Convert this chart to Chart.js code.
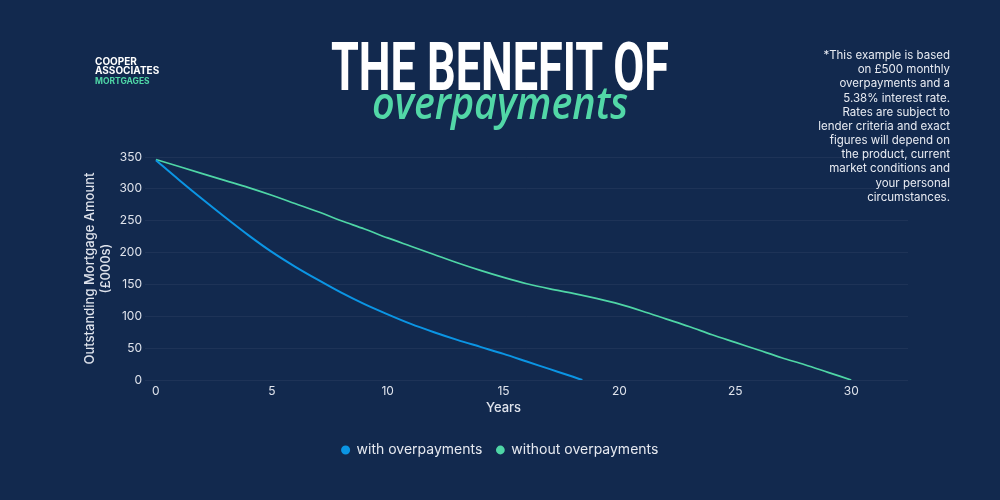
<!DOCTYPE html>
<html>
<head>
<meta charset="utf-8">
<script src="https://cdn.jsdelivr.net/npm/chart.js@4.4.1/dist/chart.umd.min.js"></script>
<style>
    html, body { margin: 0; padding: 0; }
    body {
        width: 1000px;
        height: 500px;
        background: #12294e;
        position: relative;
        overflow: hidden;
        font-family: 'Inter', sans-serif;
    }
    #chartWrap { position: absolute; left: 0; top: 0; width: 1000px; height: 500px; }
    .abs { position: absolute; white-space: nowrap; }
    .logo { left: 95px; font-weight: 700; font-size: 10px; line-height: 8px; color: #ffffff; }
    .logo.sub { color: #4fd6a6; font-size: 8.5px; line-height: 7px; }
    #titleTop {
        left: 0; width: 1000px; top: 47px; text-align: center;
        font-family: 'Roboto', sans-serif; font-weight: 700; font-size: 66px; line-height: 42px;
        color: #ffffff;
    }
    #titleScript {
        left: 0; width: 1000px; top: 90.5px; text-align: center;
        font-family: 'Open Sans', sans-serif; font-style: italic; font-weight: 600;
        font-size: 46px; line-height: 20px; color: #52d7a7;
    }
    #titleTop span, #titleScript span { display: inline-block; transform-origin: 50% 50%; }
    #note {
        right: 50px; top: 48px; text-align: right;
        font-size: 11.5px; line-height: 14.17px; color: #e8ebf2;
    }
</style>
</head>
<body>
<div id="chartWrap"><canvas id="chart" width="1000" height="500"></canvas></div>

<div class="abs logo" style="top:57px">COOPER</div>
<div class="abs logo" style="top:66px">ASSOCIATES</div>
<div class="abs logo sub" style="top:78px">MORTGAGES</div>

<div class="abs" id="titleTop"><span>THE BENEFIT OF</span></div>
<div class="abs" id="titleScript"><span>overpayments</span></div>

<div class="abs" id="note">*This example is based<br>on £500 monthly<br>overpayments and a<br>5.38% interest rate.<br>Rates are subject to<br>lender criteria and exact<br>figures will depend on<br>the product, current<br>market conditions and<br>your personal<br>circumstances.</div>

<script>
// Chart data (balances in £000s)
const withYears = [0, 1, 2, 3, 4, 5, 6, 7, 8, 9, 10, 11, 12, 13, 14, 15, 16, 17, 18, 18.4];
const withBalance = [345, 314, 284, 255, 227, 201, 178, 157, 137, 119, 103, 88, 75, 63, 52, 41, 29, 17, 5, 0];
const withoutYears = [0, 1, 2, 3, 4, 5, 6, 7, 8, 9, 10, 11, 12, 13, 14, 15, 16, 17, 18, 19, 20, 21, 22, 23, 24, 25, 26, 27, 28, 29, 30];
const withoutBalance = [346, 335, 324, 313, 302, 290, 277, 264, 250, 237, 223, 210, 197, 184, 172, 161, 151, 143, 136, 128, 119, 108, 96, 84, 71, 59, 47, 35, 24, 12, 0];
const seriesLabels = ['with overpayments', 'without overpayments'];
const xTicks = [0, 5, 10, 15, 20, 25, 30];
const yTickStep = 50;

const BLUE = '#0b95e4';
const GREEN = '#4fd6a6';
const TEXT = '#dfe3ec';

// Squeeze the heading words to the widths used in the artwork
function fitWidth(id, target) {
    const span = document.querySelector('#' + id + ' span');
    const w = span.offsetWidth;
    span.style.transform = 'scaleX(' + (target / w) + ')';
}
fitWidth('titleTop', 338);
fitWidth('titleScript', 256);

function toPoints(xs, ys) {
    return xs.map((x, i) => ({ x: x, y: ys[i] }));
}

// Draws the x axis title centred on the plan term (0 - 30 years)
const yearsTitle = {
    id: 'yearsTitle',
    afterDraw(chart) {
        const ctx = chart.ctx;
        const xScale = chart.scales.x;
        const mid = (xTicks[0] + xTicks[xTicks.length - 1]) / 2;
        ctx.save();
        ctx.font = '500 13px Inter';
        ctx.fillStyle = TEXT;
        ctx.textAlign = 'center';
        ctx.textBaseline = 'middle';
        ctx.fillText('Years', xScale.getPixelForValue(mid), 408);
        ctx.restore();
    }
};

Chart.defaults.font.family = 'Inter';
Chart.defaults.color = TEXT;

new Chart(document.getElementById('chart'), {
    type: 'line',
    data: {
        datasets: [
            {
                label: seriesLabels[0],
                data: toPoints(withYears, withBalance),
                borderColor: BLUE,
                backgroundColor: BLUE,
                borderWidth: 2,
                pointRadius: 0,
                cubicInterpolationMode: 'monotone'
            },
            {
                label: seriesLabels[1],
                data: toPoints(withoutYears, withoutBalance),
                borderColor: GREEN,
                backgroundColor: GREEN,
                borderWidth: 1.7,
                pointRadius: 0,
                cubicInterpolationMode: 'monotone'
            }
        ]
    },
    options: {
        responsive: false,
        animation: false,
        devicePixelRatio: 1,
        layout: {
            // left padding is wider so the legend sits centred on the page
            padding: { left: 92, right: 92, top: 157, bottom: 33 }
        },
        plugins: {
            legend: {
                position: 'bottom',
                labels: {
                    usePointStyle: true,
                    pointStyle: 'circle',
                    boxWidth: 8,
                    boxHeight: 5,
                    padding: 14,
                    color: '#e6e9f0',
                    font: { size: 14 }
                }
            },
            tooltip: { enabled: false }
        },
        scales: {
            x: {
                type: 'linear',
                min: -0.47,
                max: 32.45,
                grid: { display: false, drawTicks: false },
                border: { display: false },
                ticks: {
                    padding: 4,
                    font: { size: 12 },
                    color: TEXT
                },
                afterBuildTicks(scale) {
                    scale.ticks = xTicks.map(v => ({ value: v }));
                },
                afterFit(scale) {
                    scale.height = 49;
                }
            },
            y: {
                min: 0,
                max: 350,
                grid: { color: 'rgba(255,255,255,0.05)', drawTicks: false },
                border: { display: false },
                ticks: {
                    stepSize: yTickStep,
                    padding: 3,
                    font: { size: 12 },
                    color: TEXT
                },
                title: {
                    display: true,
                    text: ['Outstanding Mortgage Amount', '(£000s)'],
                    font: { size: 13, weight: 500, lineHeight: 1.25 },
                    color: TEXT,
                    padding: { top: -10, bottom: 4 }
                },
                afterFit(scale) {
                    scale.width = 53;
                }
            }
        }
    },
    plugins: [yearsTitle]
});
</script>
</body>
</html>
